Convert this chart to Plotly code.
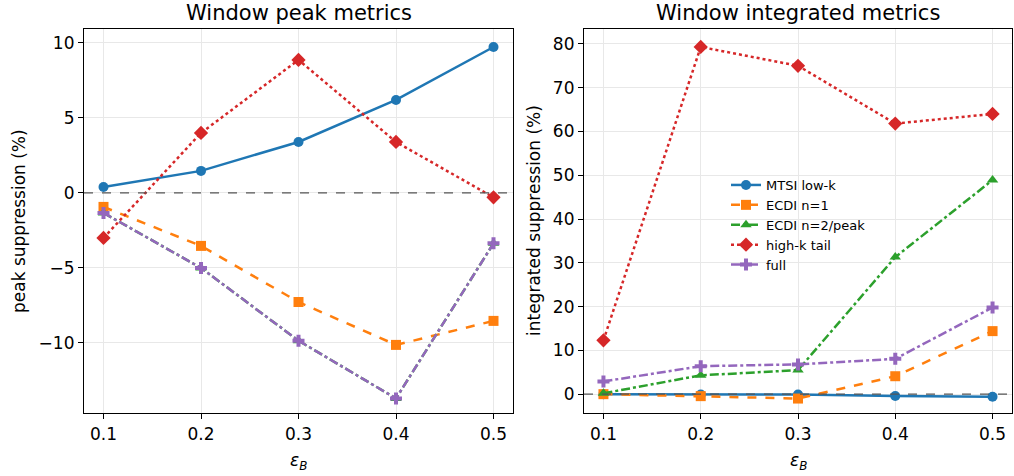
import plotly.graph_objects as go

eps = [0.1, 0.2, 0.3, 0.4, 0.5]
eps_labels = ["0.1", "0.2", "0.3", "0.4", "0.5"]
series_names = ["MTSI low-k", "ECDI n=1", "ECDI n=2/peak", "high-k tail", "full"]

peak_mtsi = [0.4, 1.47, 3.4, 6.2, 9.73]
peak_ecdi1 = [-0.93, -3.53, -7.27, -10.13, -8.53]
peak_ecdi2 = [-1.33, -5.0, -9.85, -13.7, -3.36]
peak_highk = [-3.0, 4.0, 8.87, 3.4, -0.29]
peak_full = [-1.33, -5.0, -9.85, -13.7, -3.36]

int_mtsi = [0.0, -0.1, -0.1, -0.4, -0.6]
int_ecdi1 = [0.0, -0.45, -1.0, 4.1, 14.4]
int_ecdi2 = [0.2, 4.3, 5.5, 31.3, 48.9]
int_highk = [12.3, 79.3, 75.0, 61.8, 64.0]
int_full = [2.9, 6.4, 6.8, 8.07, 19.8]

peak_ticks = [-10, -5, 0, 5, 10]
int_ticks = [0, 10, 20, 30, 40, 50, 60, 70, 80]

colors = ["#1f77b4", "#ff7f0e", "#2ca02c", "#d62728", "#9467bd"]
dashes = ["solid", "dash", "dashdot", "dot", "dashdot"]
symbols = ["circle", "square", "triangle-up", "diamond", "cross"]
msizes = [10, 10, 10, 11, 10]

FONT = "DejaVu Sans"
W, H = 1014, 476


def px(x):
    return x / W


def py(y):
    return 1 - y / H


fig = go.Figure()
peak = [peak_mtsi, peak_ecdi1, peak_ecdi2, peak_highk, peak_full]
integ = [int_mtsi, int_ecdi1, int_ecdi2, int_highk, int_full]

for i, name in enumerate(series_names):
    fig.add_trace(go.Scatter(
        x=eps, y=peak[i], name=name, mode="lines+markers",
        line=dict(color=colors[i], width=2.5, dash=dashes[i]),
        marker=dict(symbol=symbols[i], size=msizes[i], color=colors[i]),
        xaxis="x", yaxis="y", showlegend=False))
for i, name in enumerate(series_names):
    fig.add_trace(go.Scatter(
        x=eps, y=integ[i], name=name, mode="lines+markers",
        line=dict(color=colors[i], width=2.5, dash=dashes[i]),
        marker=dict(symbol=symbols[i], size=msizes[i], color=colors[i]),
        xaxis="x2", yaxis="y2", showlegend=True))

axcommon = dict(showline=True, linecolor="black", linewidth=1.2, mirror=True,
                ticks="outside", ticklen=5, tickcolor="black", tickwidth=1.2,
                showgrid=True, gridcolor="#e8e8e8", gridwidth=1, zeroline=False,
                tickfont=dict(family=FONT, size=17, color="black"))

fig.update_layout(
    width=W, height=H,
    margin=dict(l=0, r=0, t=0, b=0),
    paper_bgcolor="white", plot_bgcolor="white",
    font=dict(family=FONT, color="black"),
    xaxis=dict(domain=[px(84), px(513)], range=[0.08, 0.52],
               tickvals=eps, ticktext=eps_labels, anchor="y", **axcommon),
    yaxis=dict(domain=[py(413), py(29)], range=[-14.67, 10.93],
               tickvals=peak_ticks, anchor="x", **axcommon),
    xaxis2=dict(domain=[px(584), px(1012)], range=[0.08, 0.52],
                tickvals=eps, ticktext=eps_labels, anchor="y2", **axcommon),
    yaxis2=dict(domain=[py(413), py(29)], range=[-4.3, 83.4],
                tickvals=int_ticks, anchor="x2", **axcommon),
    legend=dict(x=px(726), y=py(170), xanchor="left", yanchor="top",
                bgcolor="rgba(255,255,255,0)", borderwidth=0,
                font=dict(family=FONT, size=13, color="black"), tracegroupgap=0),
    shapes=[
        dict(type="line", xref="x domain", yref="y", x0=0, x1=1, y0=0, y1=0,
             line=dict(color="#555555", width=1.2, dash="dash"), layer="above"),
        dict(type="line", xref="x2 domain", yref="y2", x0=0, x1=1, y0=0, y1=0,
             line=dict(color="#555555", width=1.2, dash="dash"), layer="above"),
    ],
    annotations=[
        dict(text="Window peak metrics", x=px((84 + 513) / 2), y=py(13), xref="paper", yref="paper",
             showarrow=False, font=dict(family=FONT, size=21), xanchor="center", yanchor="middle"),
        dict(text="Window integrated metrics", x=px((584 + 1012) / 2), y=py(13), xref="paper", yref="paper",
             showarrow=False, font=dict(family=FONT, size=21), xanchor="center", yanchor="middle"),
        dict(text="peak suppression (%)", x=px(19), y=py(221), xref="paper", yref="paper",
             showarrow=False, textangle=-90, font=dict(family=FONT, size=17), xanchor="center", yanchor="middle"),
        dict(text="integrated suppression (%)", x=px(534), y=py(221), xref="paper", yref="paper",
             showarrow=False, textangle=-90, font=dict(family=FONT, size=17), xanchor="center", yanchor="middle"),
        dict(text="<i>ε</i><sub><i>B</i></sub>", x=px((84 + 513) / 2), y=py(461), xref="paper", yref="paper",
             showarrow=False, font=dict(family=FONT, size=17), xanchor="center", yanchor="middle"),
        dict(text="<i>ε</i><sub><i>B</i></sub>", x=px((584 + 1012) / 2), y=py(461), xref="paper", yref="paper",
             showarrow=False, font=dict(family=FONT, size=17), xanchor="center", yanchor="middle"),
    ],
)

fig.write_html("out.html",
               config={"displayModeBar": False},
               post_script="document.body.style.margin='0';document.body.style.overflow='hidden';")
